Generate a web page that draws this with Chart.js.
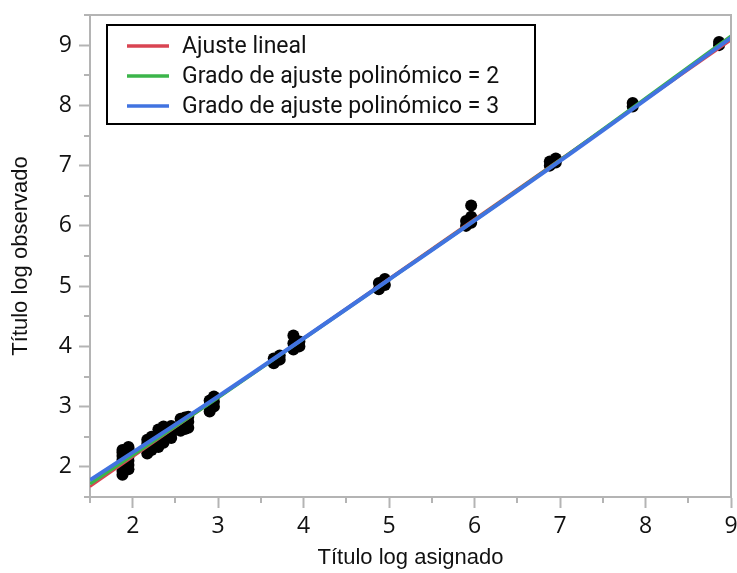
<!DOCTYPE html>
<html>
<head>
<meta charset="utf-8">
<script src="https://cdn.jsdelivr.net/npm/chart.js@4.4.1/dist/chart.umd.min.js"></script>
<style>
  body { margin: 0; background: #fff; }
  #wrap { width: 737px; height: 573px; }
</style>
</head>
<body>
<div id="wrap"><canvas id="fitChart" width="737" height="573"></canvas></div>
<script>
// observed points (x = título log asignado, y = título log observado)
const pointX = [
  1.88, 1.88, 1.88, 1.88, 1.88, 1.88, 1.88, 1.88,
  1.95, 1.95, 1.95, 1.95, 1.95, 1.95, 1.95,
  2.17, 2.17, 2.17, 2.17,
  2.22, 2.22, 2.22, 2.22,
  2.30, 2.30, 2.30, 2.30,
  2.36, 2.36, 2.36, 2.36,
  2.45, 2.45, 2.45, 2.45,
  2.56, 2.56, 2.56,
  2.61, 2.61, 2.61,
  2.65, 2.65, 2.65,
  2.90, 2.90, 2.90,
  2.95, 2.95, 2.95,
  3.65, 3.65, 3.72, 3.72,
  3.88, 3.88, 3.88, 3.95, 3.95,
  4.88, 4.88, 4.95, 4.95,
  5.90, 5.90, 5.96, 5.96, 5.96,
  6.88, 6.88, 6.95, 6.95,
  7.85, 7.85,
  8.86, 8.86
];
const pointY = [
  1.87, 1.93, 2.00, 2.06, 2.12, 2.18, 2.24, 2.28,
  1.96, 2.03, 2.10, 2.17, 2.24, 2.30, 2.33,
  2.22, 2.30, 2.38, 2.45,
  2.28, 2.36, 2.44, 2.50,
  2.33, 2.45, 2.55, 2.62,
  2.40, 2.50, 2.60, 2.67,
  2.48, 2.56, 2.65, 2.68,
  2.60, 2.70, 2.80,
  2.63, 2.72, 2.82,
  2.65, 2.75, 2.83,
  2.92, 3.02, 3.10,
  3.00, 3.08, 3.17,
  3.72, 3.80, 3.78, 3.85,
  3.95, 4.05, 4.18, 4.00, 4.08,
  4.95, 5.05, 5.02, 5.12,
  6.00, 6.08, 6.05, 6.15, 6.34,
  7.00, 7.07, 7.05, 7.12,
  7.98, 8.04,
  9.00, 9.05
];

// fitted curves
const linX = [1.5, 9];
const linY = [1.67, 9.08];
const quadX = [1.5, 3, 5, 7, 9];
const quadY = [1.72, 3.15, 5.11, 7.09, 9.15];
const cubicX = [1.5, 3, 5, 7, 9];
const cubicY = [1.78, 3.17, 5.11, 7.08, 9.12];

const seriesNames = ['Ajuste lineal', 'Grado de ajuste polinómico = 2', 'Grado de ajuste polinómico = 3'];
const seriesColors = ['#d94452', '#3bb54a', '#4173e0'];

const toXY = (xs, ys) => xs.map((x, i) => ({ x: x, y: ys[i] }));
const axisGray = '#b4b4b4';
const tickFont = { family: '"Open Sans", "DejaVu Sans", sans-serif', size: 23 };
const titleFont = { family: '"Liberation Sans", Arial, sans-serif', size: 22 };

// minor ticks, plot frame and the boxed legend
const decor = {
  id: 'decor',
  afterDraw(chart) {
    const { ctx, chartArea: a } = chart;
    const xs = chart.scales.x, ys = chart.scales.y;
    ctx.save();
    ctx.strokeStyle = axisGray;
    ctx.lineWidth = 2;
    ctx.beginPath();
    ctx.moveTo(a.left, a.top); ctx.lineTo(a.right, a.top); ctx.lineTo(a.right, a.bottom);
    xs.ticks.forEach(t => {
      if (Number.isInteger(t.value)) return;
      const px = Math.round(xs.getPixelForValue(t.value));
      ctx.moveTo(px, a.bottom); ctx.lineTo(px, a.bottom + 6);
    });
    ys.ticks.forEach(t => {
      if (Number.isInteger(t.value)) return;
      const py = Math.round(ys.getPixelForValue(t.value));
      ctx.moveTo(a.left, py); ctx.lineTo(a.left - 6, py);
    });
    ctx.stroke();

    // legend box
    const bx = a.left + 17, by = a.top + 10, bw = 428, bh = 99;
    ctx.strokeStyle = '#000';
    ctx.lineWidth = 2;
    ctx.strokeRect(bx, by, bw, bh);
    ctx.font = '23px Roboto, "Noto Sans", sans-serif';
    ctx.textBaseline = 'middle';
    ctx.fillStyle = '#111';
    seriesNames.forEach((name, i) => {
      const ly = by + 21 + i * 30;
      ctx.strokeStyle = seriesColors[i];
      ctx.lineWidth = 3.5;
      ctx.beginPath();
      ctx.moveTo(bx + 20, ly); ctx.lineTo(bx + 62, ly);
      ctx.stroke();
      ctx.fillText(name, bx + 75, ly + 1);
    });
    ctx.restore();
  }
};

const ctx = document.getElementById('fitChart').getContext('2d');
const fitChart = new Chart(ctx, {
  type: 'scatter',
  data: {
    datasets: [
      {
        label: 'Observado',
        data: toXY(pointX, pointY),
        backgroundColor: '#000',
        borderWidth: 0,
        pointRadius: 6,
        order: 4
      },
      {
        label: seriesNames[0],
        data: toXY(linX, linY),
        showLine: true,
        borderColor: seriesColors[0],
        borderWidth: 2.5,
        pointRadius: 0,
        order: 3
      },
      {
        label: seriesNames[1],
        data: toXY(quadX, quadY),
        showLine: true,
        cubicInterpolationMode: 'monotone',
        borderColor: seriesColors[1],
        borderWidth: 3.5,
        pointRadius: 0,
        order: 2
      },
      {
        label: seriesNames[2],
        data: toXY(cubicX, cubicY),
        showLine: true,
        cubicInterpolationMode: 'monotone',
        borderColor: seriesColors[2],
        borderWidth: 4,
        pointRadius: 0,
        order: 1
      }
    ]
  },
  options: {
    responsive: false,
    animation: false,
    layout: { padding: { left: 0, right: 6, top: 15, bottom: 0 } },
    scales: {
      x: {
        type: 'linear',
        min: 1.5,
        max: 9,
        afterFit: s => { s.height = 76; s.paddingLeft = 0; s.paddingRight = 0; },
        border: { color: axisGray, width: 2 },
        grid: {
          drawOnChartArea: false,
          tickLength: 11,
          tickWidth: 2,
          tickColor: c => Number.isInteger(c.tick.value) ? axisGray : 'rgba(0,0,0,0)'
        },
        ticks: {
          stepSize: 0.5,
          padding: 5,
          color: '#111',
          font: tickFont,
          maxRotation: 0,
          autoSkip: false,
          callback: v => Number.isInteger(v) ? v : ''
        },
        title: { display: true, text: 'Título log asignado', color: '#111', font: titleFont, padding: { top: 0, bottom: 2 } }
      },
      y: {
        type: 'linear',
        min: 1.5,
        max: 9.5,
        afterFit: s => { s.width = 90; s.paddingTop = 0; s.paddingBottom = 0; },
        border: { color: axisGray, width: 2 },
        grid: {
          drawOnChartArea: false,
          tickLength: 11,
          tickWidth: 2,
          tickColor: c => Number.isInteger(c.tick.value) ? axisGray : 'rgba(0,0,0,0)'
        },
        ticks: {
          stepSize: 0.5,
          padding: 7,
          color: '#111',
          font: tickFont,
          autoSkip: false,
          callback: v => Number.isInteger(v) ? v : ''
        },
        title: { display: true, text: 'Título log observado', color: '#111', font: titleFont, padding: { top: 8, bottom: 0 } }
      }
    },
    plugins: {
      legend: { display: false },
      tooltip: { enabled: false }
    }
  },
  plugins: [decor]
});
</script>
</body>
</html>
